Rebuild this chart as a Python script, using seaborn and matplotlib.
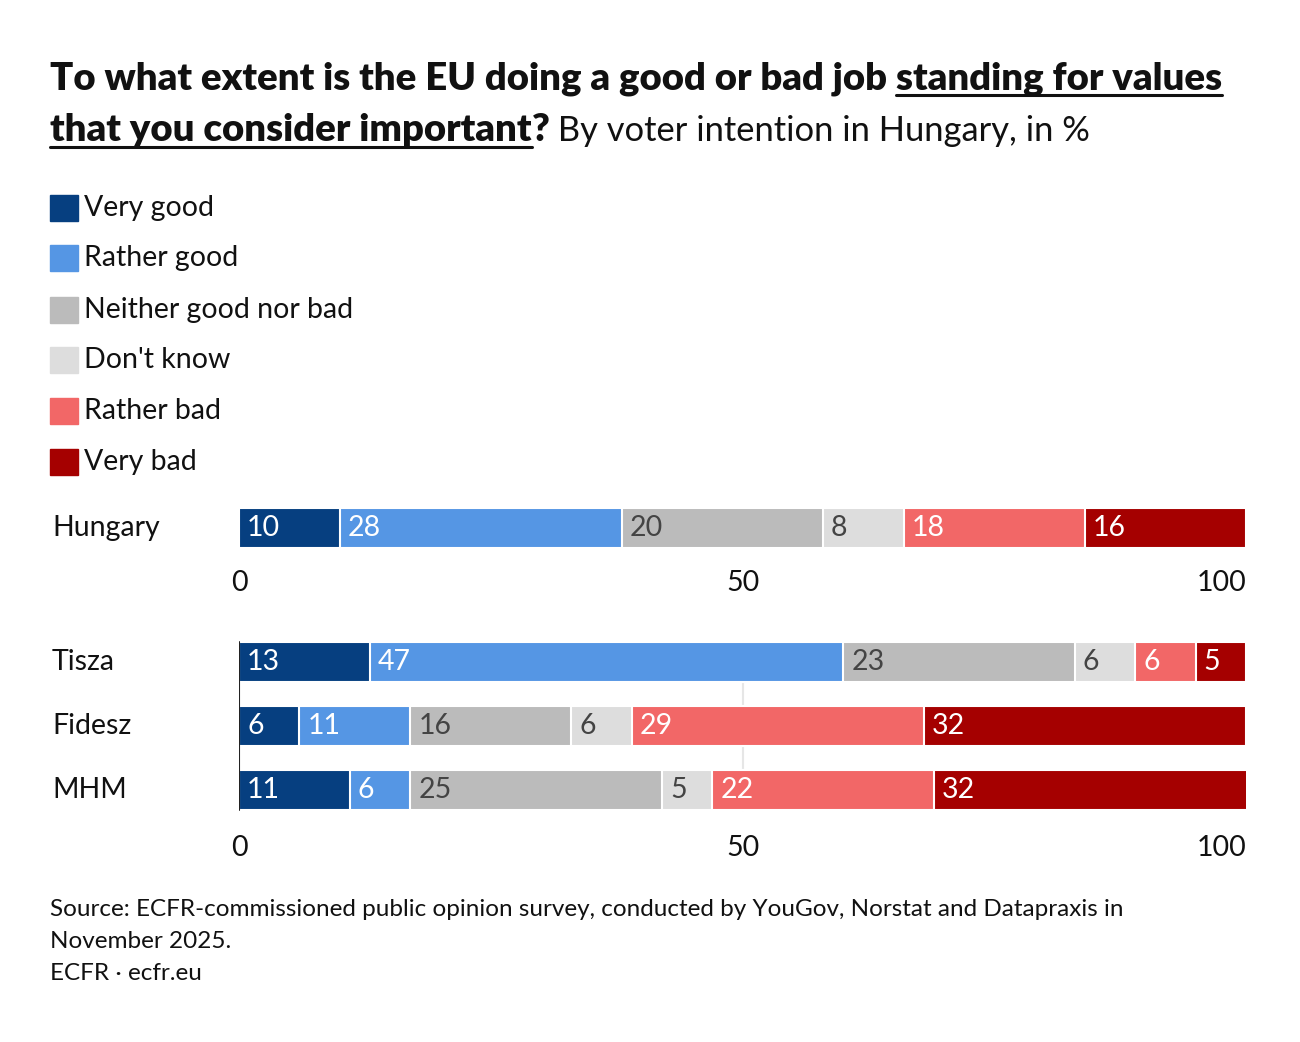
import matplotlib
matplotlib.use("Agg")
import matplotlib.pyplot as plt
import seaborn as sns
import pandas as pd
import numpy as np

sns.set_theme(style="white")
plt.rcParams['font.family'] = ['Lato', 'DejaVu Sans']

answers = ["Very good", "Rather good", "Neither good nor bad", "Don't know", "Rather bad", "Very bad"]
colors = ["#063f80", "#5596e4", "#bbbbbb", "#dddddd", "#f26767", "#a50000"]
text_colors = ["white", "white", "#444444", "#444444", "white", "white"]

top_groups = ["Hungary"]
top_values = [[10, 28, 20, 8, 18, 16]]
bottom_groups = ["Tisza", "Fidesz", "MHM"]
bottom_values = [[13, 47, 23, 6, 6, 5],
                 [6, 11, 16, 6, 29, 32],
                 [11, 6, 25, 5, 22, 32]]
ticks = [0, 50, 100]

W, H = 1300, 1042
FS = 20.5
fig = plt.figure(figsize=(W/100, H/100), dpi=100)

def fx(px): return px / W
def fy(py): return 1 - py / H

def stacked(ax, groups, values, bar_h, pad):
    vals = np.array(values, dtype=float)
    cum = np.cumsum(vals, axis=1)
    for k in range(len(answers) - 1, -1, -1):
        df = pd.DataFrame({"group": groups, "v": cum[:, k]})
        sns.barplot(data=df, x="v", y="group", orient="h", color=colors[k],
                    width=bar_h, edgecolor="white", linewidth=1.5, ax=ax,
                    saturation=1, order=groups)
    for i in range(len(groups)):
        start = 0
        for k in range(len(answers)):
            ax.text(start + 0.8, i, str(int(vals[i, k])), color=text_colors[k],
                    fontsize=FS, va="center", ha="left")
            start += vals[i, k]
    ax.set_xlim(0, 100)
    ax.set_xticks(ticks)
    labs = ax.set_xticklabels([str(t) for t in ticks], fontsize=FS, color="#111111")
    labs[-1].set_ha("right")
    ax.set_yticks([])
    ax.set_xlabel(""); ax.set_ylabel("")
    for s in ax.spines.values():
        s.set_visible(False)
    ax.tick_params(axis="x", length=0, pad=pad)
    ax.set_facecolor("none")

# top axis
ax1 = fig.add_axes([fx(239), fy(548), fx(1246) - fx(239), (548 - 508) / H])
stacked(ax1, top_groups, top_values, 1.0, 16)
ax1.set_ylim(0.5, -0.5)
fig.text(fx(52), fy(528), "Hungary", fontsize=FS, va="center", color="#111111")

# bottom axis
ax2 = fig.add_axes([fx(239), fy(822), fx(1246) - fx(239), (822 - 630) / H])
ax2.axvline(50, ymin=12/192, ymax=180/192, color="#e6e6e6", lw=1.5, zorder=0)
stacked(ax2, bottom_groups, bottom_values, 0.625, 9)
ax2.set_ylim(2.5, -0.5)
ax2.axvline(0, ymin=12/192, ymax=180/192, color="#222222", lw=1.5, zorder=5)
for i, g in enumerate(bottom_groups):
    fig.text(fx(52), fy(662 + 64 * i), g, fontsize=FS, va="center", color="#111111")

# legend
for i, (a, c) in enumerate(zip(answers, colors)):
    yc = [208, 258, 310, 360, 411, 462][i]
    fig.patches.append(plt.Rectangle((fx(50), fy(yc + 13)), 28 / W, 26 / H,
                                     transform=fig.transFigure, color=c))
    fig.text(fx(84), fy(yc), a, fontsize=FS, va="center", color="#111111")

# title with underlined parts
fig.canvas.draw()
r = fig.canvas.get_renderer()
def pieces(y, parts):
    x = fx(50)
    for txt, weight, ul in parts:
        t = fig.text(x, y, txt, fontsize=27.5 if weight != "normal" else 24.8,
                     fontweight=weight, va="baseline", color="#111111")
        bb = t.get_window_extent(renderer=r)
        w = bb.width / W
        if ul:
            fig.add_artist(plt.Line2D([x, x + w], [y - 6 / H, y - 6 / H],
                                      transform=fig.transFigure, color="#111111", lw=2.2))
        x += w
pieces(fy(89), [("To what extent is the EU doing a good or bad job ", "heavy", False),
                ("standing for values", "heavy", True)])
pieces(fy(141), [("that you consider important", "heavy", True),
                 ("?", "heavy", False),
                 (" By voter intention in Hungary, in %", "normal", False)])

fig.text(fx(50), fy(910), "Source: ECFR-commissioned public opinion survey, conducted by YouGov, Norstat and Datapraxis in",
         fontsize=17.5, va="center", color="#111111")
fig.text(fx(50), fy(941), "November 2025.", fontsize=17.5, va="center", color="#111111")
fig.text(fx(50), fy(973), "ECFR · ecfr.eu", fontsize=17.5, va="center", color="#111111")

fig.savefig("out.png", dpi=100, facecolor="white")
